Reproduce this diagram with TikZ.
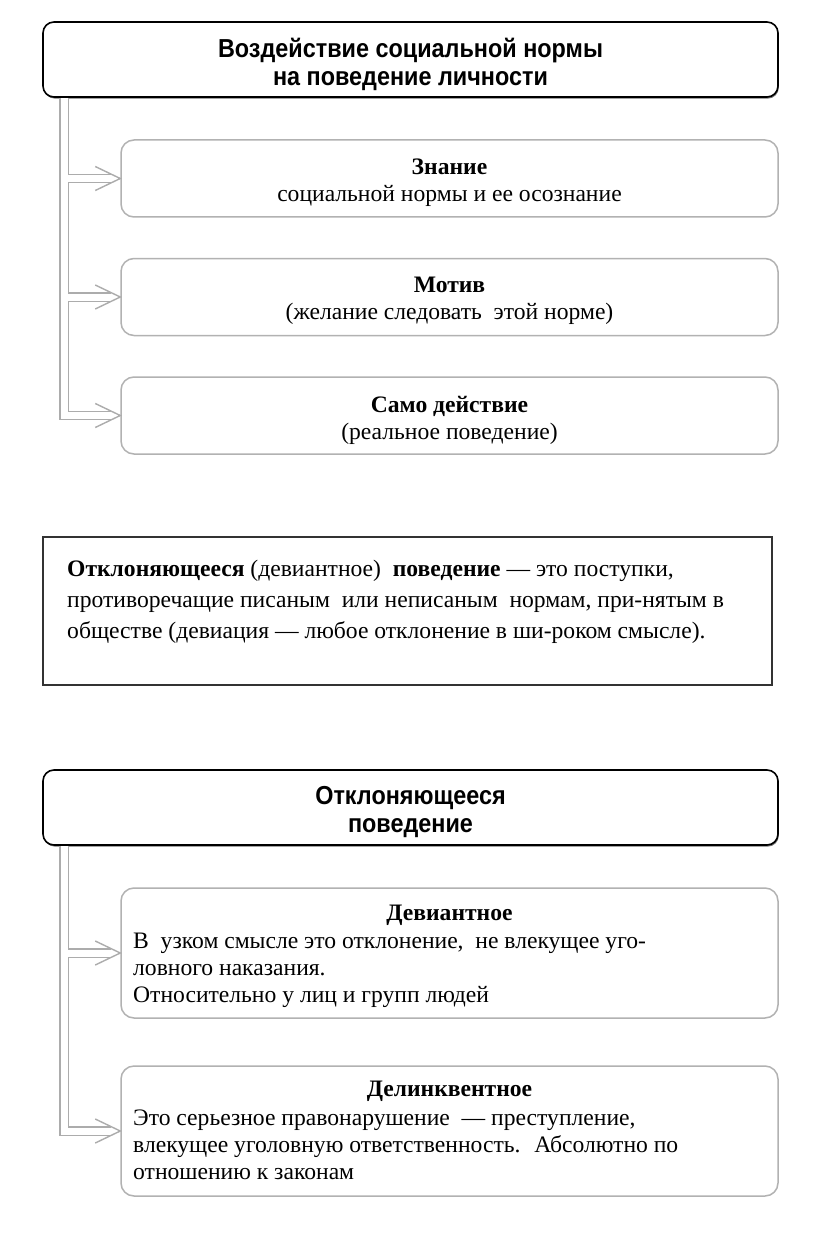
\documentclass[tikz,border=0pt]{standalone}
\usepackage{fontspec}
\setmainfont{Liberation Serif}
\newfontfamily\headfont[FakeStretch=0.9]{Liberation Sans}
\usetikzlibrary{shadows}

\tikzset{
  headbox/.style={draw=black, line width=1.6pt, rounded corners=11pt, fill=white,
    minimum width=735pt, minimum height=75pt, inner sep=0pt,
    drop shadow={shadow xshift=0.8pt, shadow yshift=-1.6pt, fill=black!55, opacity=1}},
  headtext/.style={align=center, inner sep=0pt,
    font=\headfont\bfseries\fontsize{26}{28}\selectfont},
  itembox/.style={draw=gray!60, line width=1.5pt, rounded corners=13pt, fill=white,
    minimum width=657pt, minimum height=77pt, inner sep=0pt},
  defbox/.style={draw=black!80, line width=1.4pt, fill=white,
    minimum width=729pt, minimum height=148pt, inner sep=0pt,
    drop shadow={shadow xshift=1.2pt, shadow yshift=-1.4pt, fill=black!60, opacity=1}},
  bodytext/.style={align=left, inner sep=0pt, font=\fontsize{23.6}{27}\selectfont},
  link/.style={draw=gray!65, line width=1.4pt, double=white, double distance=7pt},
  chev/.style={draw=gray!65, line width=1.4pt}
}

\begin{document}
\begin{tikzpicture}[x=1pt, y=-1pt]
  \path[fill=white, use as bounding box] (0,0) rectangle (816,1233);

  % --- first scheme ---
  \node[headbox] (q1) at (410.5,59.5) {};
  \node[headtext] (q1t) at (410.5,64) {Воздействие социальной нормы\\на поведение личности};
  \node[itembox] (b1) at (449.5,178.5) {};
  \node[itembox] (b2) at (449.5,297) {};
  \node[itembox] (b3) at (449.5,415.5) {};
  \node[bodytext, align=center] (b1t) at (449.5,183) {\textbf{Знание}\\социальной нормы и ее осознание};
  \node[bodytext, align=center] (b2t) at (449.5,301) {\textbf{Мотив}\\(желание следовать \ этой норме)};
  \node[bodytext, align=center] (b3t) at (449.5,420) {\textbf{Само действие}\\(реальное поведение)};
  % trunk with branches, then the open arrow heads
  \coordinate (r1) at ([xshift=22pt]q1.south west);
  \draw[link] (r1) |- ([xshift=-9pt]b1.west)
              (r1) |- ([xshift=-9pt]b2.west)
              (r1) |- ([xshift=-9pt]b3.west);
  \foreach \b in {b1,b2,b3}
    \draw[chev] ([shift={(-25pt,-12pt)}]\b.west) -- (\b.west) -- ([shift={(-25pt,12pt)}]\b.west);

  % --- definition ---
  \node[defbox] (def) at (407.5,611) {};
  \node[bodytext, font=\fontsize{23.6}{31}\selectfont, anchor=west] (deftext) at (67,602)
    {\textbf{Отклоняющееся} (девиантное) \ \textbf{поведение} — это поступки,\\
     противоречащие писаным \ или неписаным \ нормам, при-нятым в\\
     обществе (девиация — любое отклонение в ши-роком смысле).};

  % --- second scheme ---
  \node[headbox] (q2) at (410.5,807.5) {};
  \node[headtext] (q2t) at (410.5,812) {Отклоняющееся\\поведение};
  \node[itembox, minimum height=130pt] (b4) at (449.5,953) {};
  \node[itembox, minimum height=130pt] (b5) at (449.5,1131) {};
  \node[bodytext, font=\fontsize{23.6}{27}\selectfont\bfseries] (b4h) at (449.5,915) {Девиантное};
  \node[bodytext, anchor=west] (b4t) at (133,970)
    {В \ узком смысле это отклонение, \ не влекущее уго-\\
     ловного наказания.\\
     Относительно у лиц и групп людей};
  \node[bodytext, font=\fontsize{23.6}{27}\selectfont\bfseries] (b5h) at (449.5,1091) {Делинквентное};
  \node[bodytext, anchor=west] (b5t) at (133,1145)
    {Это серьезное правонарушение \ — преступление,\\
     влекущее уголовную ответственность. \ Абсолютно по\\
     отношению к законам};
  \coordinate (r2) at ([xshift=22pt]q2.south west);
  \draw[link] (r2) |- ([xshift=-9pt]b4.west)
              (r2) |- ([xshift=-9pt]b5.west);
  \foreach \b in {b4,b5}
    \draw[chev] ([shift={(-25pt,-12pt)}]\b.west) -- (\b.west) -- ([shift={(-25pt,12pt)}]\b.west);
\end{tikzpicture}
\end{document}
